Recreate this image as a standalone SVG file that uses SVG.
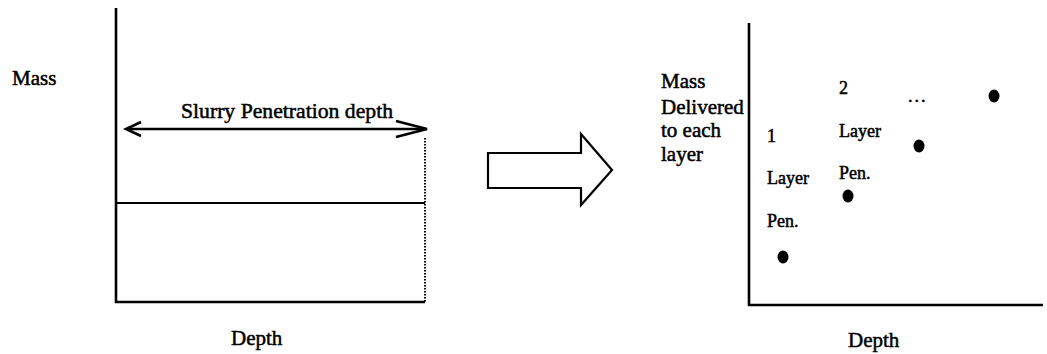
<svg xmlns="http://www.w3.org/2000/svg" width="1047" height="354" viewBox="0 0 1047 354">
<style>
.t{font-family:"Liberation Serif","Times New Roman",serif;font-size:21px;fill:#000;stroke:#000;stroke-width:0.5}
.s{font-size:18px}
.ax{stroke:#000;stroke-width:2.6;fill:none}
.ln{stroke:#000;stroke-width:2;fill:none}
.dot{fill:#000}
</style>
<rect width="1047" height="354" fill="#fff"/>
<g id="left-chart">
<path class="ax" d="M116,8 V302 H425"/>
<line class="ln" x1="116" y1="203" x2="425" y2="203"/>
<line x1="425" y1="138" x2="425" y2="302" stroke="#000" stroke-width="2" stroke-dasharray="1.5,1.5"/>
<text class="t" x="12" y="85">Mass</text>
<text class="t" x="181" y="118" textLength="212" lengthAdjust="spacingAndGlyphs">Slurry Penetration depth</text>
<text class="t" x="231" y="345">Depth</text>
</g>
<g id="connectors">
<line x1="126" y1="129" x2="426" y2="129" stroke="#000" stroke-width="2.4"/>
<path d="M141,122 L126,129 L141,136" stroke="#000" stroke-width="2.6" fill="none" stroke-linejoin="miter"/>
<path d="M396,121 L427,129 L396,137" stroke="#000" stroke-width="2.6" fill="none" stroke-linejoin="miter"/>
</g>
<g id="block-arrow">
<path d="M488,153 H581 V134 L612,170 L581,205 V188 H488 Z" fill="#fff" stroke="#000" stroke-width="2.2" stroke-linejoin="miter"/>
</g>
<g id="right-chart">
<path class="ax" d="M749,23 V305 H1043"/>
<text class="t" x="661" y="88">Mass</text>
<text class="t" x="661" y="114">Delivered</text>
<text class="t" x="661" y="137">to each</text>
<text class="t" x="661" y="161">layer</text>
<text class="t" x="848" y="347">Depth</text>
</g>
<g id="points">
<ellipse class="dot" cx="783" cy="257" rx="5.5" ry="6.5"/>
<ellipse class="dot" cx="848" cy="196" rx="5.5" ry="6.5"/>
<ellipse class="dot" cx="919" cy="146" rx="5.5" ry="6.5"/>
<ellipse class="dot" cx="994" cy="96" rx="5.5" ry="6.5"/>
<text class="t s" x="767" y="142">1</text>
<text class="t s" x="767" y="184">Layer</text>
<text class="t s" x="767" y="227">Pen.</text>
<text class="t s" x="839" y="94">2</text>
<text class="t s" x="839" y="137">Layer</text>
<text class="t s" x="839" y="179">Pen.</text>
<text class="t s" x="908" y="102" letter-spacing="2">...</text>
</g>
</svg>
